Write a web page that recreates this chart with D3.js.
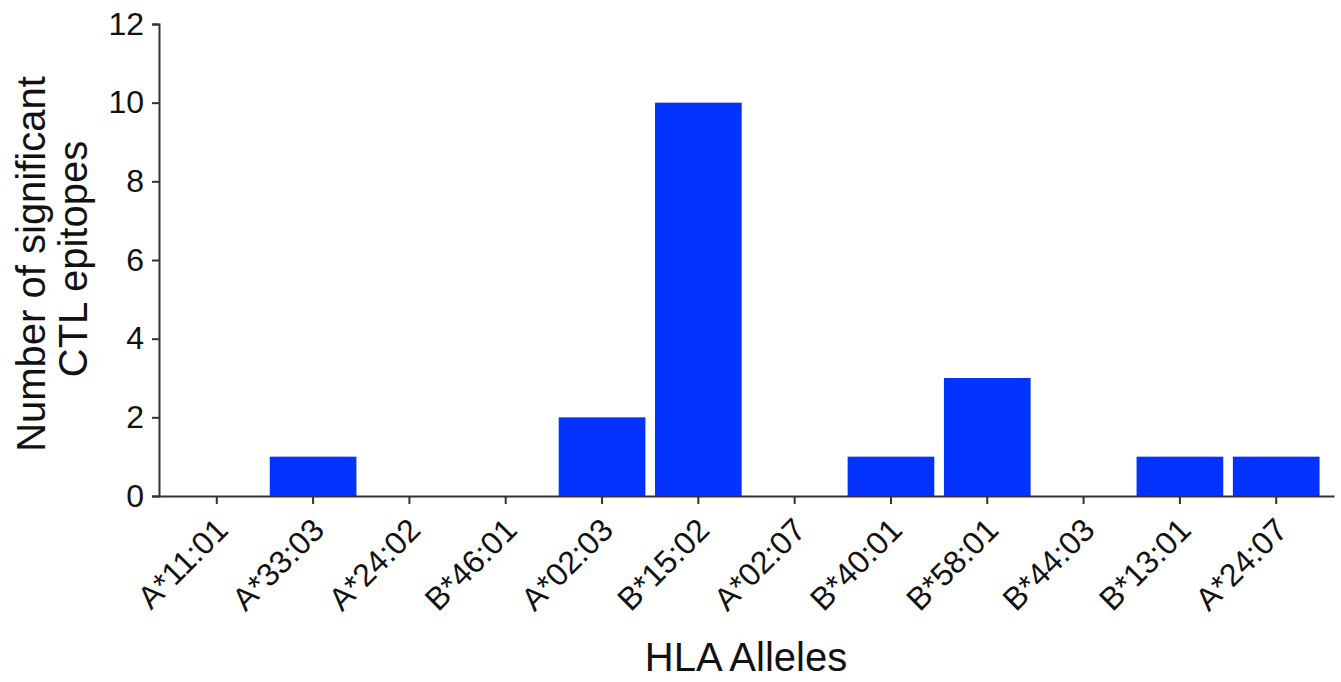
<!DOCTYPE html>
<html>
<head>
<meta charset="utf-8">
<script src="https://cdn.jsdelivr.net/npm/d3@7"></script>
<style>
  html, body { margin: 0; padding: 0; background: #fff; }
  svg { display: block; font-family: "Liberation Sans", Arial, Helvetica, sans-serif; }
</style>
</head>
<body>
<svg id="chart" width="1341" height="682"></svg>
<script>
const alleles = ["A*11:01","A*33:03","A*24:02","B*46:01","A*02:03","B*15:02","A*02:07","B*40:01","B*58:01","B*44:03","B*13:01","A*24:07"];
const epitopeCounts = [0,1,0,0,2,10,0,1,3,0,1,1];
const yTicks = [0,2,4,6,8,10,12];
const xTitle = "HLA Alleles";
const yTitleLines = ["Number of significant","CTL epitopes"];

const svg = d3.select("#chart");
const x0 = 159, x1 = 1334, yTop = 24, yBottom = 496;

const x = d3.scaleBand().domain(alleles).range([x0, x1]).paddingInner(0.1).paddingOuter(0.15);
const y = d3.scaleLinear().domain([0, 12]).range([yBottom, yTop]);

const data = alleles.map((a, i) => ({a, v: epitopeCounts[i]}));

svg.append("g").selectAll("rect").data(data.filter(d => d.v > 0)).join("rect")
  .attr("x", d => x(d.a))
  .attr("y", d => y(d.v))
  .attr("width", x.bandwidth())
  .attr("height", d => y(0) - y(d.v))
  .attr("fill", "#0433ff");

const axisColor = "#333";

const gy = svg.append("g").attr("transform", `translate(${x0},0)`)
  .call(d3.axisLeft(y).tickValues(yTicks).tickSize(7).tickSizeOuter(7).tickPadding(8));
gy.selectAll("path, line").attr("stroke", axisColor).attr("stroke-width", 2);
gy.selectAll("text").attr("font-size", 32).attr("fill", "#111").attr("font-family", "Liberation Sans, Arial, sans-serif");

const gx = svg.append("g").attr("transform", `translate(0,${yBottom})`)
  .call(d3.axisBottom(x).tickSize(8).tickSizeOuter(0));
gx.selectAll("path, line").attr("stroke", axisColor).attr("stroke-width", 2);
gx.selectAll("text")
  .attr("font-size", 32)
  .attr("fill", "#111")
  .attr("font-family", "Liberation Sans, Arial, sans-serif")
  .attr("text-anchor", "end")
  .attr("dy", 0)
  .attr("y", 0)
  .attr("transform", "translate(13,36) rotate(-45)");

svg.append("text")
  .attr("x", 746).attr("y", 671)
  .attr("text-anchor", "middle")
  .attr("font-size", 40)
  .attr("fill", "#111")
  .text(xTitle);

const yt = svg.append("text")
  .attr("transform", "rotate(-90)")
  .attr("text-anchor", "middle")
  .attr("font-size", 40)
  .attr("fill", "#111");
yt.append("tspan").attr("x", -264).attr("y", 45).text(yTitleLines[0]);
yt.append("tspan").attr("x", -259).attr("y", 87).text(yTitleLines[1]);
</script>
</body>
</html>
